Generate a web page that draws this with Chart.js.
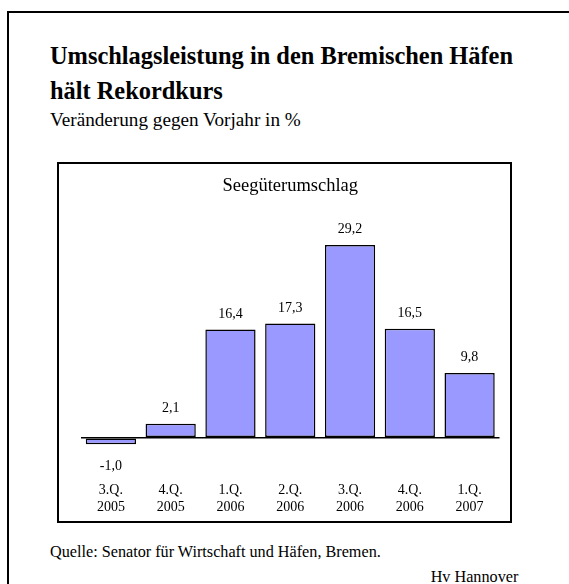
<!DOCTYPE html>
<html>
<head>
<meta charset="utf-8">
<script src="https://cdn.jsdelivr.net/npm/chart.js@4/dist/chart.umd.min.js"></script>
<style>
  html, body { margin: 0; padding: 0; background: #fff; width: 569px; height: 584px; overflow: hidden; }
  body { position: relative; font-family: "Liberation Serif", "Times New Roman", serif; color: #000; }
  .abs { position: absolute; white-space: nowrap; }
  #outer { position: absolute; left: 7px; top: 11px; width: 640px; height: 640px; border: 2px solid #000; box-sizing: border-box; }
  #inner { position: absolute; left: 57px; top: 162px; width: 455px; height: 361px; border: 2px solid #000; box-sizing: border-box; }
  #chartWrap { position: absolute; left: 57px; top: 162px; width: 455px; height: 361px; }
</style>
</head>
<body>
<div id="outer"></div>
<div class="abs" style="left:50px; top:37.5px; font-size:24.4px; font-weight:bold; line-height:35px;">Umschlagsleistung in den Bremischen Häfen<br>hält Rekordkurs</div>
<div class="abs" style="left:50px; top:109.5px; font-size:19.2px; line-height:20px;">Veränderung gegen Vorjahr in %</div>
<div id="inner"></div>
<div id="chartWrap"><canvas id="c" width="455" height="361"></canvas></div>
<div class="abs" style="left:50px; top:542.6px; font-size:16.2px; line-height:18px;">Quelle: Senator für Wirtschaft und Häfen, Bremen.</div>
<div class="abs" style="right:50.7px; top:567.6px; font-size:16.2px; line-height:18px;">Hv Hannover</div>
<script>
const categories = [["3.Q.", "2005"], ["4.Q.", "2005"], ["1.Q.", "2006"], ["2.Q.", "2006"], ["3.Q.", "2006"], ["4.Q.", "2006"], ["1.Q.", "2007"]];
const values = [-1.0, 2.1, 16.4, 17.3, 29.2, 16.5, 9.8];
const chartTitle = "Seegüterumschlag";

const FONT = '"Liberation Serif", "Times New Roman", serif';

const valueLabels = {
  id: 'valueLabels',
  afterDatasetsDraw(chart) {
    const ctx = chart.ctx;
    const meta = chart.getDatasetMeta(0);
    ctx.save();
    ctx.font = '14px ' + FONT;
    ctx.fillStyle = '#000';
    ctx.textAlign = 'center';
    ctx.textBaseline = 'alphabetic';
    meta.data.forEach((bar, i) => {
      const v = values[i];
      const txt = v.toFixed(1).replace('.', ',');
      if (v >= 0) {
        ctx.fillText(txt, bar.x, bar.y - 11.6);
      } else {
        ctx.fillText(txt, bar.x, bar.y + 25.7);
      }
    });
    ctx.restore();
  }
};

new Chart(document.getElementById('c'), {
  type: 'bar',
  data: {
    labels: categories,
    datasets: [{
      data: values,
      backgroundColor: '#9999FF',
      borderColor: '#000',
      borderWidth: 1.5,
      borderSkipped: false,
      barPercentage: 0.84,
      categoryPercentage: 1.0
    }]
  },
  options: {
    responsive: false,
    animation: false,
    devicePixelRatio: 1,
    layout: { padding: { left: 24, right: 12.5, top: 0, bottom: 0 } },
    plugins: {
      legend: { display: false },
      tooltip: { enabled: false },
      title: {
        display: true,
        text: chartTitle,
        color: '#000',
        font: { family: FONT, size: 18.5, weight: 'normal' },
        padding: { top: 12.6, bottom: 16.6 }
      }
    },
    scales: {
      x: {
        grid: { display: false, drawTicks: false },
        border: { display: false },
        ticks: {
          color: '#000',
          font: { family: FONT, size: 14, lineHeight: 1.18 },
          padding: 18,
          maxRotation: 0,
          autoSkip: false
        },
        afterFit(scale) { scale.height = 58.9; }
      },
      y: {
        min: -4,
        max: 34,
        ticks: { display: false, stepSize: 2 },
        border: { display: false },
        grid: {
          drawTicks: false,
          lineWidth: 1.5,
          color: (c) => (c.tick && c.tick.value === 0) ? '#000' : 'rgba(0,0,0,0)'
        },
        afterFit(scale) { scale.width = 0; }
      }
    }
  },
  plugins: [valueLabels]
});
</script>
</body>
</html>
